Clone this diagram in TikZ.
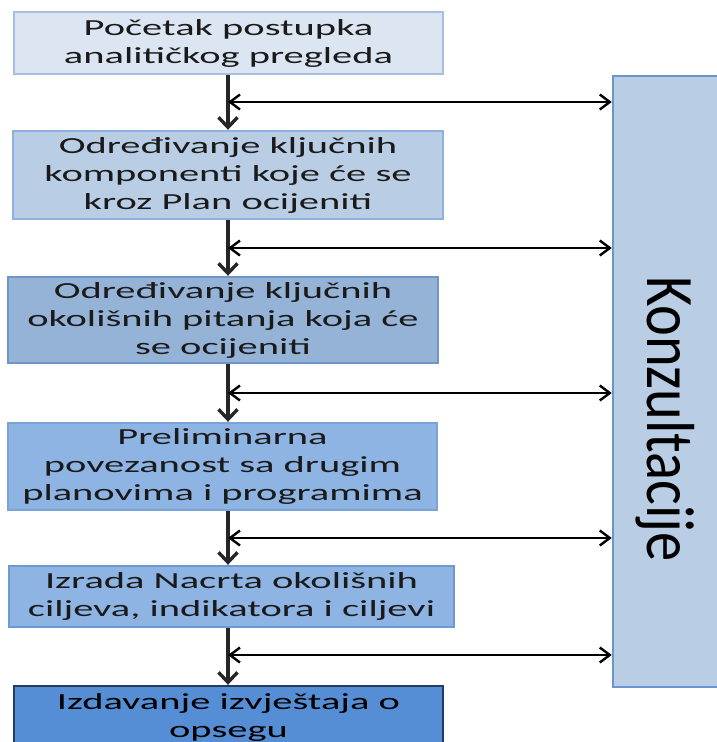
\documentclass[tikz,border=0pt]{standalone}
\usepackage{fontspec}
\setmainfont{Carlito}[FakeStretch=1.76]
\newfontfamily\konzfont{Carlito}[FakeStretch=0.86]
\usepackage{xcolor}
\usepackage{tikz}
\usetikzlibrary{arrows.meta}

\definecolor{fillA}{HTML}{DCE6F2}
\definecolor{edgeA}{HTML}{A7BFDE}
\definecolor{fillB}{HTML}{B9CDE5}
\definecolor{edgeB}{HTML}{8DB1DD}
\definecolor{fillC}{HTML}{95B3D7}
\definecolor{edgeC}{HTML}{6F95C6}
\definecolor{fillD}{HTML}{8EB4E3}
\definecolor{edgeD}{HTML}{7BA3D6}
\definecolor{fillE}{HTML}{8DB4E2}
\definecolor{edgeE}{HTML}{6C99D0}
\definecolor{fillF}{HTML}{558ED5}
\definecolor{edgeF}{HTML}{1F3D64}
\definecolor{fillK}{HTML}{B9CDE5}
\definecolor{edgeK}{HTML}{6A95CC}
\definecolor{textdark}{HTML}{1A1A1A}
\definecolor{flowgray}{HTML}{262626}

\begin{document}
\begin{tikzpicture}[x=1pt, y=-1pt,
		stage/.style={
			rectangle, draw, line width=2.4pt, align=center, inner sep=0pt,
			text=textdark, font=\fontsize{23}{28}\selectfont
		},
		flow/.style={-{Straight Barb[length=10pt,width=19pt]}, line width=3.4pt, draw=flowgray},
		link/.style={{Straight Barb[length=10pt,width=15pt]}-{Straight Barb[length=10pt,width=15pt]}, line width=2.4pt}
	]
		\useasboundingbox (0,0) rectangle (717,742);
		\clip (0,0) rectangle (717,742);

		% consultation column on the right
		\node[
			rectangle, draw=edgeK, fill=fillK, line width=2.4pt,
			minimum width=130pt, minimum height=611pt
		] (consult) at (678,381.5) {};
		\node[rotate=-90, anchor=base, inner sep=0pt, font=\konzfont\fontsize{68}{68}\selectfont]
			(konz) at (647,419) {Konzultacije};

		% the six steps
		\node[stage, draw=edgeA, fill=fillA, minimum width=429pt, minimum height=62pt]
			(start) at (228.5,43) {Početak postupka\\analitičkog pregleda};
		\node[stage, draw=edgeB, fill=fillB, minimum width=430pt, minimum height=88pt]
			(keycomp) at (228,175) {Određivanje ključnih\\komponenti koje će se\\kroz Plan ocijeniti};
		\node[stage, draw=edgeC, fill=fillC, minimum width=430pt, minimum height=86pt]
			(keyiss) at (223,320) {Određivanje ključnih\\okolišnih pitanja koja će\\se ocijeniti};
		\node[stage, draw=edgeD, fill=fillD, minimum width=429pt, minimum height=87pt]
			(prelim) at (222.5,466.5) {Preliminarna\\povezanost sa drugim\\planovima i programima};
		\node[stage, draw=edgeE, fill=fillE, minimum width=445pt, minimum height=61pt]
			(draft) at (231.5,596.5) {Izrada Nacrta okolišnih\\ciljeva, indikatora i ciljevi};
		\node[stage, draw=edgeF, fill=fillF, minimum width=429pt, minimum height=62pt, text=black]
			(scoping) at (228.5,717) {Izdavanje izvještaja o\\opsegu};

		% spine and the links to the consultations
		\coordinate (spine) at (228,0);
		\foreach \a/\b/\y in {start/keycomp/102,keycomp/keyiss/248,keyiss/prelim/393,prelim/draft/538,draft/scoping/655} {
				\draw[flow] (\a.south -| spine) -- (\b.north -| spine);
				\coordinate (j-\a) at (228,\y);
				\draw[link] (j-\a) -- (j-\a -| consult.west);
			}
	\end{tikzpicture}
\end{document}
